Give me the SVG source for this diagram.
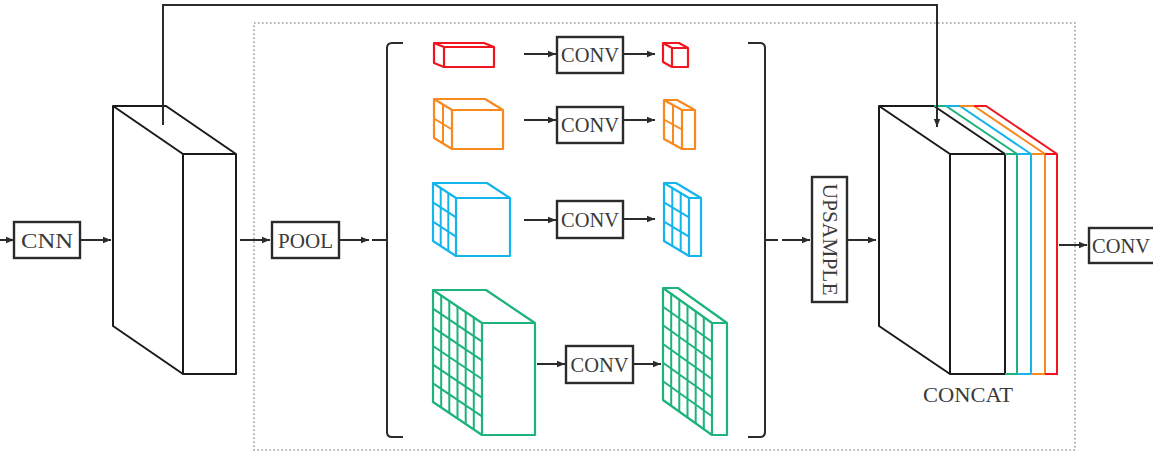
<svg xmlns="http://www.w3.org/2000/svg" width="1153" height="454" viewBox="0 0 1153 454">
<style>
.ln{fill:none;stroke:#2b2b2b;stroke-width:2}
.box{fill:#fff;stroke:#2b2b2b;stroke-width:2.4}
.blk{fill:#fff;stroke:#1a1a1a;stroke-width:2;stroke-linejoin:round}
.t{font-family:"Liberation Serif","Times New Roman",serif;font-size:21px;fill:#3a3a3a;text-anchor:middle}
.cube{fill:#fff;stroke-width:2.2;stroke-linejoin:round}
.grid{fill:none;stroke-width:2}
.r{stroke:#f2141e}.o{stroke:#f7891f}.b{stroke:#14b4ec}.g{stroke:#1db37a}
</style>
<defs>
<marker id="ah" markerUnits="userSpaceOnUse" markerWidth="9" markerHeight="8" refX="8" refY="4" orient="auto">
<path d="M0,0.8 L8,4 L0,7.2 z" fill="#2b2b2b"/>
</marker>
</defs>
<rect x="254" y="23" width="821" height="427" fill="none" stroke="#9a9a9a" stroke-width="1.6" stroke-dasharray="1.6 2.4"/>
<g id="bracket-left"><path class="ln" d="M403,43 H392 Q387,43 387,48 V432 Q387,437 392,437 H403"/></g>
<g id="bracket-right"><path class="ln" d="M748,43 H760 Q765,43 765,48 V432 Q765,437 760,437 H748"/></g>
<g id="cnn"><rect class="box" x="14" y="222" width="66" height="36"/><text class="t" x="47" y="248" textLength="52" lengthAdjust="spacingAndGlyphs">CNN</text></g>
<g id="feature-map">
<path class="blk" d="M113,106 L166,106 L236,154 L236,374 L183,374 L113,326 Z M113,106 L183,154 L236,154 M183,154 V374"/>
</g>
<g id="pool"><rect class="box" x="272" y="222" width="67" height="36"/><text class="t" x="305.5" y="248" textLength="55" lengthAdjust="spacingAndGlyphs">POOL</text></g>
<g id="red-in"><path class="cube r" d="M434,43 L484,43 L494,47 L494,67 L444,67 L434,63 Z M434,43 L444,47 L494,47 M444,47 V67"/></g>
<g id="orange-in">
<path class="cube o" d="M434,99 L485,99 L503,110 L503,149 L452,149 L434,138 Z M434,99 L452,110 L503,110 M452,110 V149"/>
<path class="grid o" d="M443,104.5 V143.5 M434,118.5 L452,129.5"/>
</g>
<g id="blue-in">
<path class="cube b" d="M433,183 L487,183 L510,198 L510,256 L456,256 L433,241 Z M433,183 L456,198 L510,198 M456,198 V256"/>
<path class="grid b" d="M440.7,188 V246 M448.3,193 V251 M433,202.3 L456,217.3 M433,221.7 L456,236.7"/>
</g>
<g id="green-in">
<path class="cube g" d="M433,290 L486,290 L535,323 L535,435 L482,435 L433,402 Z M433,290 L482,323 L535,323 M482,323 V435"/>
<path class="grid g" d="M441.2,295.5 V407.5 M449.3,301 V413 M457.5,306.5 V418.5 M465.7,312 V424 M473.8,317.5 V429.5 M433,308.7 L482,341.7 M433,327.3 L482,360.3 M433,346 L482,379 M433,364.7 L482,397.7 M433,383.3 L482,416.3"/>
</g>
<g id="conv1"><rect class="box" x="557" y="37" width="66" height="36"/><text class="t" x="590" y="62" textLength="58" lengthAdjust="spacingAndGlyphs">CONV</text></g>
<g id="conv2"><rect class="box" x="557" y="107" width="66" height="36"/><text class="t" x="590" y="132" textLength="58" lengthAdjust="spacingAndGlyphs">CONV</text></g>
<g id="conv3"><rect class="box" x="557" y="201" width="66" height="37"/><text class="t" x="590" y="227" textLength="58" lengthAdjust="spacingAndGlyphs">CONV</text></g>
<g id="conv4"><rect class="box" x="566" y="346" width="67" height="37"/><text class="t" x="599.5" y="372" textLength="58" lengthAdjust="spacingAndGlyphs">CONV</text></g>
<g id="red-out"><path class="cube r" d="M663,43 L679,43 L688,48 L688,67 L672,67 L663,62 Z M663,43 L672,48 L688,48 M672,48 V67"/></g>
<g id="orange-out">
<path class="cube o" d="M664,100 L677,100 L695,110 L695,149 L682,149 L664,139 Z M664,100 L682,110 L695,110 M682,110 V149"/>
<path class="grid o" d="M673,105 V144 M664,119.5 L682,129.5"/>
</g>
<g id="blue-out">
<path class="cube b" d="M664,183 L676,183 L701,198 L701,256 L689,256 L664,241 Z M664,183 L689,198 L701,198 M689,198 V256"/>
<path class="grid b" d="M672.3,188 V246 M680.7,193 V251 M664,202.3 L689,217.3 M664,221.7 L689,236.7"/>
</g>
<g id="green-out">
<path class="cube g" d="M663,288 L678,288 L727,323 L727,435 L712,435 L663,400 Z M663,288 L712,323 L727,323 M712,323 V435"/>
<path class="grid g" d="M671.2,293.8 V405.8 M679.3,299.7 V411.7 M687.5,305.5 V417.5 M695.7,311.3 V423.3 M703.8,317.2 V429.2 M663,306.7 L712,341.7 M663,325.3 L712,360.3 M663,344 L712,379 M663,362.7 L712,397.7 M663,381.3 L712,416.3"/>
</g>
<g id="upsample"><rect class="box" x="812" y="177" width="35" height="125"/><text class="t" transform="translate(829.5,239.5) rotate(90)" x="0" y="7" textLength="112" lengthAdjust="spacingAndGlyphs">UPSAMPLE</text></g>
<g id="concat">
<path class="blk" d="M879,106 L934,106 L1005,154 L1005,374 L950,374 L879,326 Z M879,106 L950,154 L1005,154 M950,154 V374"/>
<path class="grid g" d="M934,106 H946 L1017,154 V374 H1005 M1005,154 H1017"/>
<path class="grid b" d="M946,106 H960 L1031,154 V374 H1017 M1017,154 H1031"/>
<path class="grid o" d="M960,106 H974 L1045,154 V374 H1031 M1031,154 H1045"/>
<path class="grid r" d="M974,106 H986 L1057,154 V374 H1045 M1045,154 H1057"/>
<text class="t" x="968" y="402" textLength="90" lengthAdjust="spacingAndGlyphs">CONCAT</text>
</g>
<g id="conv-out"><rect class="box" x="1089" y="228" width="70" height="35"/><text class="t" x="1121" y="253" textLength="58" lengthAdjust="spacingAndGlyphs">CONV</text></g>
<g id="connectors">
<path class="ln" d="M0,240 H14" marker-end="url(#ah)"/>
<path class="ln" d="M80,240 H111" marker-end="url(#ah)"/>
<path class="ln" d="M240,240 H270" marker-end="url(#ah)"/>
<path class="ln" d="M340,240 H369" marker-end="url(#ah)"/>
<path class="ln" d="M372,240 H387"/>
<path class="ln" d="M765,240 H778"/>
<path class="ln" d="M782,240 H810" marker-end="url(#ah)"/>
<path class="ln" d="M847,240 H876" marker-end="url(#ah)"/>
<path class="ln" d="M1059,245 H1087" marker-end="url(#ah)"/>
<path class="ln" d="M163,125 V5 H937 V127" marker-end="url(#ah)"/>
<path class="ln" d="M524,54 H556" marker-end="url(#ah)"/>
<path class="ln" d="M623,54 H655" marker-end="url(#ah)"/>
<path class="ln" d="M524,120 H556" marker-end="url(#ah)"/>
<path class="ln" d="M623,120 H655" marker-end="url(#ah)"/>
<path class="ln" d="M524,220 H556" marker-end="url(#ah)"/>
<path class="ln" d="M623,219 H655" marker-end="url(#ah)"/>
<path class="ln" d="M537,364 H565" marker-end="url(#ah)"/>
<path class="ln" d="M633,364 H661" marker-end="url(#ah)"/>
</g>
</svg>
